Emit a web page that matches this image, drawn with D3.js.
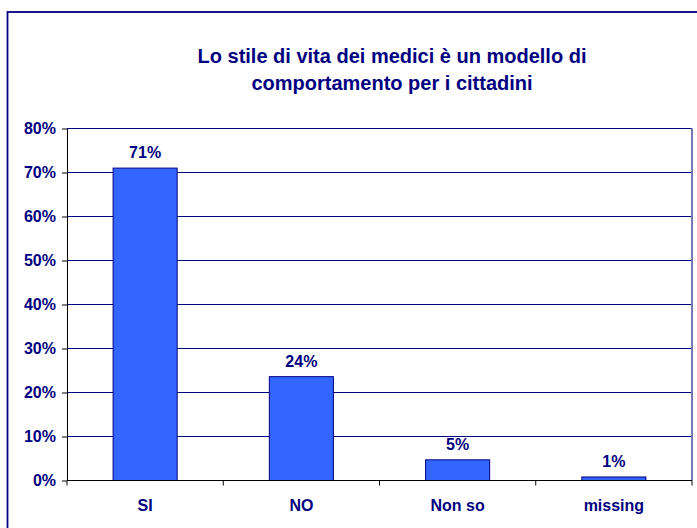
<!DOCTYPE html>
<html>
<head>
<meta charset="utf-8">
<script src="https://cdn.jsdelivr.net/npm/d3@7"></script>
<style>
	html, body { margin: 0; padding: 0; background: #fff; }
	#app { width: 697px; height: 528px; overflow: hidden; }
	text { font-family: "Liberation Sans", Arial, sans-serif; font-weight: bold; fill: #000080; }
</style>
</head>
<body>
<div id="app"></div>
<script>
// data (share of answers)
const categories = ['SI', 'NO', 'Non so', 'missing'];
const values = [0.71, 0.236, 0.047, 0.008];
const yTicks = [0, 0.1, 0.2, 0.3, 0.4, 0.5, 0.6, 0.7, 0.8];
const titleLines = ['Lo stile di vita dei medici è un modello di', 'comportamento per i cittadini'];

function initGraph () {

	let app = d3.select('#app'),
		outerWidth = 697,
		outerHeight = 528,
		margin = { top: 128.5, right: 5, bottom: 47.5, left: 67 },
		width = outerWidth - margin.left - margin.right,
		height = outerHeight - margin.top - margin.bottom,
		navy = '#000080',
		pct = d3.format('.0%');

	let svg = app.append('svg')
		.attr('width', outerWidth)
		.attr('height', outerHeight);

	// chart area border (runs off the right and bottom of the picture)
	svg.append('rect')
		.attr('x', 7.5)
		.attr('y', 12)
		.attr('width', outerWidth + 20)
		.attr('height', outerHeight + 20)
		.attr('fill', 'none')
		.attr('stroke', navy)
		.attr('stroke-width', 1.8);

	svg.append('text')
		.attr('text-anchor', 'middle')
		.attr('font-size', 20)
		.selectAll('tspan')
		.data(titleLines)
		.enter().append('tspan')
			.attr('x', 392)
			.attr('y', (d, i) => 62.5 + i * 27.5)
			.text(d => d);

	let graph = svg.append('g')
		.attr('transform', `translate(${ margin.left }, ${ margin.top })`);

	let x = d3.scaleBand()
		.domain(categories)
		.range([0, width])
		.paddingInner(0.59)
		.paddingOuter(0.295);

	let y = d3.scaleLinear()
		.domain([0, 0.8])
		.range([height, 0]);

	// gridlines
	graph.append('g')
		.selectAll('line')
		.data(yTicks.filter(d => d > 0))
		.enter().append('line')
			.attr('x1', 0)
			.attr('x2', width)
			.attr('y1', d => y(d))
			.attr('y2', d => y(d))
			.attr('stroke', navy)
			.attr('stroke-width', 1);

	// plot area right edge
	graph.append('line')
		.attr('x1', width)
		.attr('x2', width)
		.attr('y1', 0)
		.attr('y2', height)
		.attr('stroke', '#7676b8')
		.attr('stroke-width', 2);

	graph.append('g')
		.selectAll('rect')
		.data(values)
		.enter().append('rect')
			.attr('x', (d, i) => x(categories[i]))
			.attr('y', d => y(d))
			.attr('width', x.bandwidth())
			.attr('height', d => height - y(d))
			.attr('fill', '#3366ff')
			.attr('stroke', navy)
			.attr('stroke-width', 1);

	graph.append('g')
		.attr('text-anchor', 'middle')
		.attr('font-size', 16)
		.selectAll('text')
		.data(values)
		.enter().append('text')
			.attr('x', (d, i) => x(categories[i]) + x.bandwidth() / 2)
			.attr('y', d => y(d) - 10)
			.text(d => pct(d));

	// y axis
	let yAxis = graph.append('g')
		.call(d3.axisLeft(y)
			.tickValues(yTicks)
			.tickFormat(pct)
			.tickSize(5)
			.tickSizeOuter(0)
			.tickPadding(6));

	yAxis.select('.domain').attr('stroke', '#000');
	yAxis.selectAll('.tick line').attr('stroke', '#000');
	yAxis.selectAll('.tick text')
		.attr('font-size', 16)
		.attr('font-family', null)
		.attr('fill', navy);
	yAxis.attr('font-family', null).attr('font-size', null);

	// x axis: line, ticks between categories, labels
	let step = x.step(),
		gap = (step - x.bandwidth()) / 2,
		bounds = categories.map(c => x(c) - gap).concat([x(categories[categories.length - 1]) + x.bandwidth() + gap]);

	let xAxis = graph.append('g')
		.attr('transform', `translate(0, ${ height })`);

	xAxis.append('line')
		.attr('x1', 0)
		.attr('x2', width)
		.attr('stroke', '#000');

	xAxis.selectAll('.tk')
		.data(bounds)
		.enter().append('line')
			.attr('class', 'tk')
			.attr('x1', d => d)
			.attr('x2', d => d)
			.attr('y1', 0)
			.attr('y2', 5)
			.attr('stroke', '#000');

	xAxis.selectAll('text')
		.data(categories)
		.enter().append('text')
			.attr('x', d => x(d) + x.bandwidth() / 2)
			.attr('y', 30.5)
			.attr('text-anchor', 'middle')
			.attr('font-size', 16)
			.text(d => d);
}

initGraph();
</script>
</body>
</html>
